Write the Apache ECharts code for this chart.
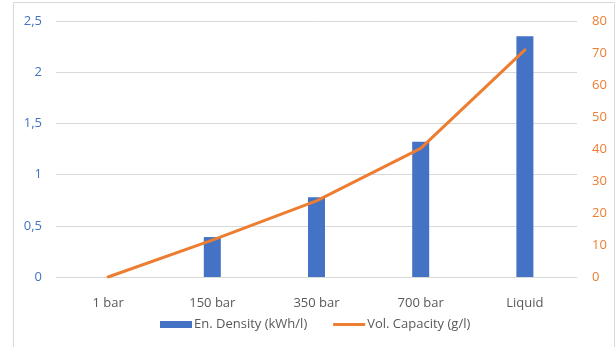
<!DOCTYPE html>
<html>
<head>
<meta charset="utf-8">
<script src="https://cdn.jsdelivr.net/npm/echarts@6/dist/echarts.min.js"></script>
<style>
html,body{margin:0;padding:0;background:#fff;}
#chart{width:616px;height:347px;}
</style>
</head>
<body>
<div id="chart"></div>
<script>
const categories = ['1 bar', '150 bar', '350 bar', '700 bar', 'Liquid'];
const energyDensity = [0, 0.39, 0.78, 1.32, 2.35];
const volCapacity = [0, 11.5, 23.8, 40.2, 71.0];
const leftTicks = { min: 0, max: 2.5, interval: 0.5 };
const rightTicks = { min: 0, max: 80, interval: 10 };

const font = "'Open Sans', 'Liberation Sans', sans-serif";
const chart = echarts.init(document.getElementById('chart'), null, { renderer: 'canvas' });
chart.setOption({
  animation: false,
  backgroundColor: '#ffffff',
  graphic: [{
    type: 'rect',
    shape: { x: 13.5, y: 2.5, width: 601, height: 360 },
    style: { fill: 'none', stroke: '#d9d9d9', lineWidth: 1 },
    silent: true
  }],
  grid: { left: 56, right: 39, top: 21, bottom: 70 },
  legend: {
    bottom: 11,
    left: 155,
    itemGap: 26,
    itemWidth: 32,
    itemHeight: 7,
    textStyle: { color: '#595959', fontSize: 13, fontFamily: font, padding: [0, 0, 0, -3] },
    data: [
      { name: 'En. Density (kWh/l)', icon: 'rect' },
      { name: 'Vol. Capacity (g/l)', icon: 'path://M0,0h32v3.2h-32z' }
    ]
  },
  xAxis: {
    type: 'category',
    data: categories,
    axisTick: { show: false },
    axisLine: { lineStyle: { color: '#d9d9d9', width: 1 } },
    axisLabel: { color: '#595959', fontSize: 13, fontFamily: font, margin: 20 }
  },
  yAxis: [{
    type: 'value',
    min: leftTicks.min, max: leftTicks.max, interval: leftTicks.interval,
    axisLine: { show: false },
    axisTick: { show: false },
    splitLine: { lineStyle: { color: '#d9d9d9', width: 1 } },
    axisLabel: {
      color: '#4472C4', fontSize: 13, fontFamily: font, margin: 14,
      formatter: v => String(v).replace('.', ',')
    }
  }, {
    type: 'value',
    min: rightTicks.min, max: rightTicks.max, interval: rightTicks.interval,
    axisLine: { show: false },
    axisTick: { show: false },
    splitLine: { show: false },
    axisLabel: { color: '#ED7D31', fontSize: 13, fontFamily: font, margin: 15 }
  }],
  series: [{
    name: 'En. Density (kWh/l)',
    type: 'bar',
    yAxisIndex: 0,
    barWidth: 17,
    itemStyle: { color: '#4472C4' },
    data: energyDensity
  }, {
    name: 'Vol. Capacity (g/l)',
    type: 'line',
    yAxisIndex: 1,
    symbol: 'none',
    itemStyle: { color: '#ED7D31' },
    lineStyle: { color: '#ED7D31', width: 3, cap: 'round', join: 'round' },
    data: volCapacity
  }]
});
</script>
</body>
</html>
